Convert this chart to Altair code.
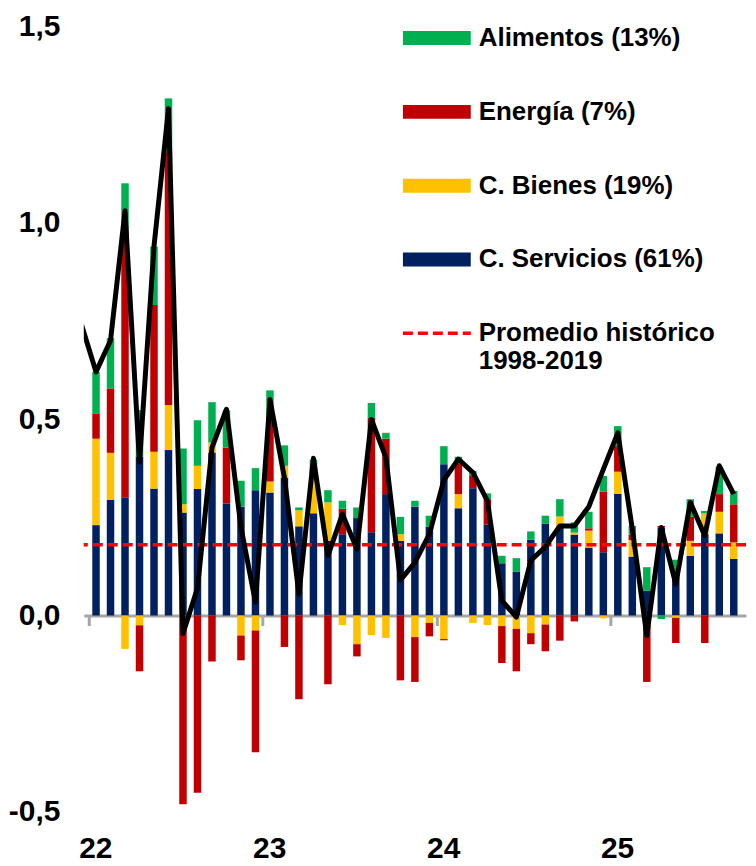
import altair as alt
import pandas as pd

# Monthly contributions to CPI (pp), Jan-2022 .. Sep-2025
anios = ["22", "23", "24", "25"]
meses = [f"{m:02d}/{a}" for a in anios for m in range(1, 13)][:45]

servicios = [0.230, 0.294, 0.300, 0.405, 0.323, 0.421, 0.262, 0.322, 0.415, 0.285,
             0.277, 0.319, 0.313, 0.351, 0.227, 0.260, 0.190, 0.207, 0.248, 0.212,
             0.309, 0.190, 0.277, 0.226, 0.385, 0.273, 0.324, 0.231, 0.133, 0.112,
             0.193, 0.234, 0.224, 0.206, 0.173, 0.161, 0.310, 0.150, 0.063, 0.224,
             0.097, 0.152, 0.207, 0.209, 0.144]
bienes = [0.220, 0.120, -0.085, -0.025, 0.094, 0.115, 0.021, 0.059, 0.025, 0.000,
          -0.051, -0.038, 0.028, 0.030, 0.041, 0.090, 0.098, -0.024, -0.073, -0.050,
          -0.057, 0.017, -0.055, -0.019, -0.060, 0.036, -0.019, -0.024, -0.027, -0.034,
          -0.045, -0.023, 0.028, 0.005, 0.043, -0.007, 0.056, 0.042, 0.000, 0.000,
          -0.006, 0.038, 0.053, 0.055, 0.042]
energia = [0.063, 0.164, 0.680, -0.117, 0.373, 0.643, -0.480, -0.451, -0.117, 0.142,
           -0.063, -0.310, 0.164, -0.080, -0.213, 0.027, -0.175, 0.065, -0.031, 0.291,
           0.141, -0.165, -0.114, -0.034, -0.003, 0.078, 0.033, 0.065, -0.094, -0.108,
           -0.028, -0.068, -0.064, -0.015, 0.006, 0.154, 0.065, 0.014, -0.169, 0.004,
           -0.064, 0.061, -0.070, 0.045, 0.097]
alimentos = [0.107, 0.128, 0.120, 0.118, 0.149, 0.137, 0.142, 0.116, 0.103, 0.095,
             0.066, 0.056, 0.068, 0.052, 0.007, 0.020, 0.031, 0.020, 0.027, 0.038,
             0.015, 0.044, 0.015, 0.028, 0.046, 0.017, 0.011, 0.015, 0.019, 0.034,
             0.021, 0.020, 0.044, 0.026, 0.042, 0.040, 0.051, 0.022, 0.060, -0.009,
             0.045, 0.045, 0.006, 0.070, 0.034]
# General index (black line), Dec-2021 .. Sep-2025
total = [0.74,
         0.62, 0.70, 1.03, 0.39, 0.94, 1.29, -0.046, 0.07, 0.427, 0.525,
         0.224, 0.034, 0.55, 0.35, 0.055, 0.40, 0.152, 0.258, 0.169, 0.499,
         0.402, 0.09, 0.135, 0.207, 0.345, 0.398, 0.364, 0.292, 0.038, -0.004,
         0.14, 0.175, 0.228, 0.228, 0.277, 0.372, 0.465, 0.22, -0.051, 0.224,
         0.08, 0.288, 0.203, 0.381, 0.309]
promedio = 0.18

componentes = ["C. Servicios (61%)", "C. Bienes (19%)", "Energía (7%)", "Alimentos (13%)"]
leyenda_orden = ["Alimentos (13%)", "Energía (7%)", "C. Bienes (19%)", "C. Servicios (61%)"]
leyenda_colores = ["#00B050", "#C00000", "#FFC000", "#002060"]
promedio_nombre = "Promedio histórico 1998-2019"

rows = []
for i, m in enumerate(meses):
    for k, (name, serie) in enumerate(zip(componentes, [servicios, bienes, energia, alimentos])):
        rows.append({"t": i, "mes": m, "componente": name, "orden": k, "valor": serie[i]})
bars_df = pd.DataFrame(rows)
line_df = pd.DataFrame({"t": list(range(-1, len(meses))), "total": total})
prom_df = pd.DataFrame({"promedio": [promedio], "serie": [promedio_nombre]})

FONT = "Liberation Sans"

x_scale = alt.Scale(domain=[-0.5, 44.5], nice=False, zero=False)
x_axis = alt.Axis(
    values=[-0.5, 11.5, 23.5, 35.5],
    labelExpr="'' + (22 + round((datum.value + 0.5) / 12))",
    offset=-197, domain=True, domainColor="#A6A6A6", domainWidth=3,
    ticks=True, tickColor="#A6A6A6", tickWidth=3, tickSize=10,
    labelPadding=209, labelOffset=6.5, labelFlush=False, labelOverlap=False,
    labelFont=FONT, labelFontSize=30, labelFontWeight="bold", labelColor="black",
    grid=False, title=None)
y_scale = alt.Scale(domain=[-0.5, 1.5], nice=False, zero=False)
y_axis = alt.Axis(
    values=[-0.5, 0, 0.5, 1.0, 1.5],
    labelExpr="(datum.value < 0 ? '-' : '') + replace(format(abs(datum.value), '.1f'), '.', ',')",
    grid=False, domain=False, ticks=False, labelPadding=24,
    labelFont=FONT, labelFontSize=30, labelFontWeight="bold", labelColor="black",
    title=None)

legend_common = dict(
    orient="none", title=None, symbolSize=400, labelLimit=0,
    labelFont=FONT, labelFontSize=26, labelFontWeight="bold",
    labelColor="black", labelOffset=29,
)

bars = alt.Chart(bars_df).mark_bar(width=7.5).encode(
    x=alt.X("t:Q", scale=x_scale, axis=x_axis),
    y=alt.Y("valor:Q", stack="zero", scale=y_scale, axis=y_axis),
    color=alt.Color("componente:N",
                    scale=alt.Scale(domain=leyenda_orden, range=leyenda_colores),
                    legend=alt.Legend(
                        legendX=341, legendY=-1,
                        symbolType="M-3.4,-0.7H3.4V0.7H-3.4Z",
                        symbolStrokeWidth=0, symbolOpacity=1, rowPadding=48,
                        **legend_common)),
    order=alt.Order("orden:Q"),
)

rule = alt.Chart(prom_df).mark_rule(strokeWidth=3.5, strokeDash=[10, 5]).encode(
    y=alt.Y("promedio:Q", scale=y_scale, axis=y_axis),
    stroke=alt.Stroke("serie:N",
                      scale=alt.Scale(domain=[promedio_nombre], range=["#FF0000"]),
                      legend=alt.Legend(
                          legendX=341, legendY=295,
                          symbolType="M-3.4,0H3.4",
                          symbolStrokeWidth=3.5, symbolDash=[10, 5],
                          symbolFillColor="transparent",
                          labelExpr="['Promedio histórico', '1998-2019']",
                          **legend_common)),
)

line = alt.Chart(line_df).mark_line(color="black", strokeWidth=5, clip=True,
                                    strokeJoin="round").encode(
    x=alt.X("t:Q", scale=x_scale, axis=x_axis),
    y=alt.Y("total:Q", scale=y_scale, axis=y_axis),
)

chart = alt.layer(bars, rule, line).resolve_scale(color="independent").properties(
    width=664, height=788,
    padding={"left": 0, "top": 2, "right": 0, "bottom": 0},
).configure_view(stroke=None)

chart.save("out.html", embed_options={"renderer": "svg", "actions": False})
